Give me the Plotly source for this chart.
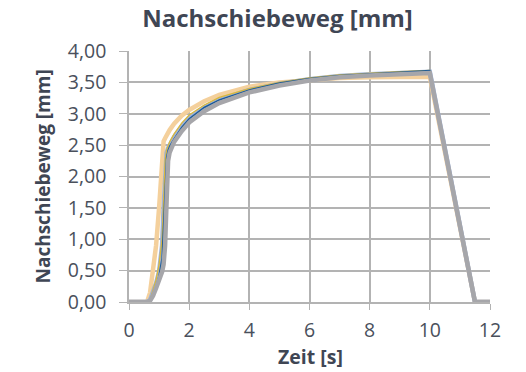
import plotly.graph_objects as go

time_s = [0, 0.6, 0.7, 0.8, 0.9, 1.0, 1.1, 1.15, 1.2, 1.25, 1.3, 1.35, 1.5, 1.75, 2, 2.5, 3, 4, 5, 6, 7, 8, 9, 10, 11.5, 12]

weg_tan = [0, 0, 0.15, 0.5, 0.9, 1.5, 2.1, 2.56, 2.61, 2.66, 2.7, 2.74, 2.84, 2.97, 3.06, 3.2, 3.3, 3.43, 3.5, 3.54, 3.57, 3.58, 3.59, 3.59, 0, 0]
weg_green = [0, 0, 0.02, 0.1, 0.2, 0.35, 0.55, 0.85, 1.4, 2.0, 2.3, 2.4, 2.56, 2.74, 2.88, 3.06, 3.19, 3.36, 3.47, 3.55, 3.6, 3.63, 3.65, 3.67, 0, 0]
weg_lightblue = [0, 0, 0.03, 0.15, 0.3, 0.48, 0.9, 1.5, 2.2, 2.38, 2.45, 2.5, 2.63, 2.8, 2.93, 3.1, 3.22, 3.38, 3.48, 3.55, 3.6, 3.63, 3.65, 3.67, 0, 0]
weg_yellow = [0, 0, 0.04, 0.18, 0.35, 0.6, 1.0, 1.6, 2.25, 2.42, 2.5, 2.55, 2.68, 2.85, 2.98, 3.14, 3.26, 3.4, 3.5, 3.57, 3.62, 3.65, 3.67, 3.69, 0, 0]
weg_blue = [0, 0, 0.02, 0.12, 0.25, 0.42, 0.7, 1.2, 1.9, 2.3, 2.42, 2.48, 2.6, 2.78, 2.92, 3.1, 3.22, 3.38, 3.49, 3.56, 3.61, 3.64, 3.66, 3.69, 0, 0]
weg_gray = [0, 0, 0.02, 0.1, 0.22, 0.35, 0.48, 0.6, 0.9, 1.6, 2.25, 2.38, 2.55, 2.72, 2.86, 3.04, 3.17, 3.34, 3.45, 3.53, 3.58, 3.61, 3.63, 3.65, 0, 0]

y_ticks = [0, 0.5, 1.0, 1.5, 2.0, 2.5, 3.0, 3.5, 4.0]
x_ticks = [0, 2, 4, 6, 8, 10, 12]

series = [
    (weg_tan, "#F4D09C", 4.5),
    (weg_green, "#7DAE60", 1.2),
    (weg_lightblue, "#9FB3DA", 4.5),
    (weg_yellow, "#D9B83A", 1.3),
    (weg_blue, "#1F5C96", 1.5),
    (weg_gray, "#A6A6AA", 4.5),
]

fig = go.Figure()
for ys, col, w in series:
    fig.add_trace(go.Scatter(x=time_s, y=ys, mode="lines",
                             line=dict(color=col, width=w), showlegend=False))

font_fam = "'Open Sans', sans-serif"
grid_col = "#B3B3B3"
txt_col = "#3F4654"
tick_col = "#4A505C"

L, R, T, B = 129, 36, 51, 70
plot_w = 526 - L - R
plot_h = 372 - T - B

fig.update_layout(
    width=526, height=372,
    margin=dict(l=L, r=R, t=T, b=B, autoexpand=False),
    paper_bgcolor="white", plot_bgcolor="white",
    separators=",.",
    font=dict(family=font_fam, color=txt_col),
    title=dict(text="<b>Nachschiebeweg [mm]</b>", x=277.5 / 526, xref="container",
               xanchor="center", y=1 - 19 / 372, yanchor="middle",
               font=dict(size=24, color=txt_col, family=font_fam)),
    xaxis=dict(range=[0, 12], tickvals=x_ticks, showgrid=True, gridcolor=grid_col, gridwidth=1.5,
               zeroline=False, showline=True, linecolor=grid_col, linewidth=1.5,
               ticks="outside", ticklen=6, tickcolor=grid_col, automargin=False,
               tickfont=dict(size=19.5, color=tick_col), ticklabelstandoff=4),
    yaxis=dict(range=[0, 4], tickvals=y_ticks, tickformat=".2f", showgrid=True, gridcolor=grid_col,
               gridwidth=1.5, zeroline=False, showline=True, linecolor=grid_col, linewidth=1.5,
               ticks="outside", ticklen=8, tickcolor=grid_col, automargin=False,
               tickfont=dict(size=19.5, color=tick_col), ticklabelstandoff=9),
    annotations=[
        dict(text="<b>Zeit [s]</b>", xref="paper", yref="paper",
             x=(310 - L) / plot_w, y=-(356 - (T + plot_h)) / plot_h,
             xanchor="center", yanchor="middle", showarrow=False,
             font=dict(size=19.5, color=txt_col)),
        dict(text="<b>Nachschiebeweg [mm]</b>", xref="paper", yref="paper",
             x=-(L - 42) / plot_w, y=0.5, textangle=-90,
             xanchor="center", yanchor="middle", showarrow=False,
             font=dict(size=19, color=txt_col)),
    ],
)

fig.write_html("out.html", config={"displayModeBar": False},
               post_script="document.body.style.margin='0';document.body.style.overflow='hidden';")
